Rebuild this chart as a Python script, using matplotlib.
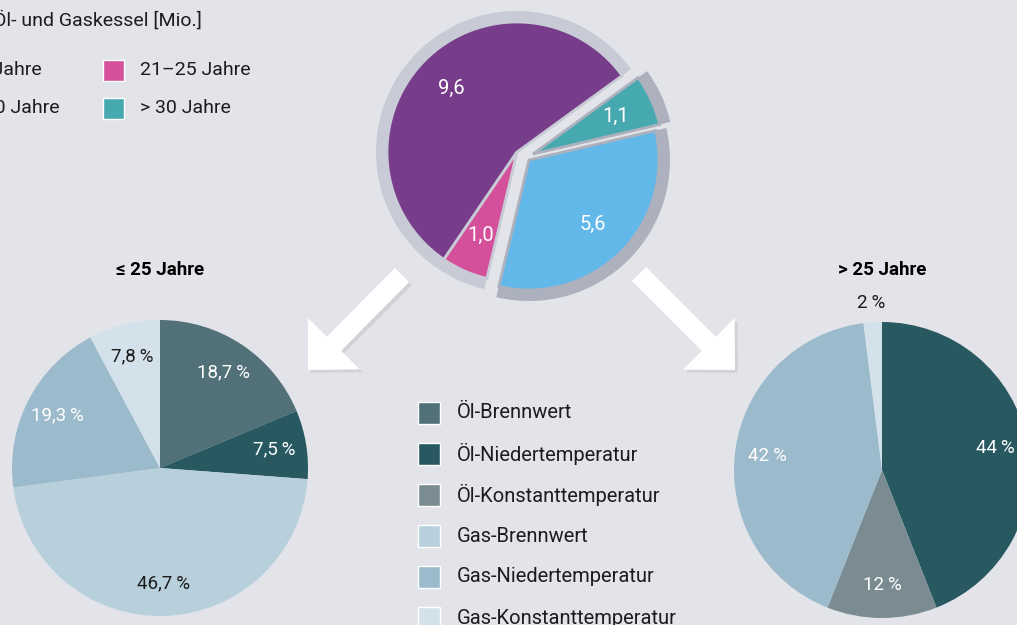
import matplotlib
matplotlib.use("Agg")
import matplotlib.pyplot as plt
import matplotlib.patheffects as pe
from matplotlib.patches import FancyArrow, Rectangle
import numpy as np

# boilers by age [Mio.]
age_groups = ['≤ 20 Jahre', '21–25 Jahre', '26–30 Jahre', '> 30 Jahre']
age_values = [9.6, 1.0, 5.6, 1.1]
age_labels = ['9,6', '1,0', '5,6', '1,1']
age_colors = ['#773c8a', '#d4509a', '#62b8e8', '#47a9b0']

# boiler types, share in percent
boiler_types = ['Öl-Brennwert', 'Öl-Niedertemperatur', 'Öl-Konstanttemperatur',
                'Gas-Brennwert', 'Gas-Niedertemperatur', 'Gas-Konstanttemperatur']
type_colors = ['#517077', '#285961', '#7a8c92', '#b8d0dc', '#9bbacb', '#d3e2ea']
type_text = ['white', 'white', 'white', '#1c1c1c', 'white', '#1c1c1c']
young_share = [18.7, 7.5, 0, 46.7, 19.3, 7.8]
young_labels = ['18,7\u2009%', '7,5\u2009%', '', '46,7\u2009%', '19,3\u2009%', '7,8\u2009%']
old_share = [0, 44, 12, 0, 42, 2]
old_labels = ['', '44\u2009%', '12\u2009%', '', '42\u2009%', '2\u2009%']

BG = '#e3e4e9'
W, H = 1017, 625

plt.rcParams['font.family'] = ['Roboto', 'DejaVu Sans']

fig = plt.figure(figsize=(W / 100, H / 100), dpi=100, facecolor=BG)
ax = fig.add_axes([0, 0, 1, 1])
ax.set_facecolor(BG)


def Y(y):
    return H - y


def pie_labels(wedges, labels, colors, center, radius, dist, outside_dist=1.13, fs=13.5):
    for w, lab, col in zip(wedges, labels, colors):
        if not lab:
            continue
        span = w.theta2 - w.theta1
        th = np.deg2rad((w.theta1 + w.theta2) / 2)
        d = dist if span > 10 else outside_dist
        c = col if span > 10 else '#1c1c1c'
        ax.text(center[0] + d * radius * np.cos(th), center[1] + d * radius * np.sin(th), lab,
                ha='center', va='center', color=c, fontsize=fs)


# top pie, split into exploded groups with a grey rim
R_in, R_out = 130, 141
groups = [([0, 1], (517, Y(152)), '#c8cad5'),
          ([2], (529, Y(160)), '#adb1bd'),
          ([3], (533, Y(154)), '#adb1bd')]
for members, c, rim in groups:
    outer, _ = ax.pie(age_values, startangle=36, center=c, radius=R_out,
                      colors=[rim] * 4, wedgeprops=dict(linewidth=0))
    inner, _ = ax.pie(age_values, startangle=36, center=c, radius=R_in,
                      colors=age_colors, wedgeprops=dict(edgecolor=rim, linewidth=2))
    for i in range(len(age_values)):
        if i not in members:
            outer[i].set_visible(False)
            inner[i].set_visible(False)
    pie_labels([inner[i] for i in members], [age_labels[i] for i in members],
               ['white'] * len(members), c, R_in, 0.7, fs=14.5)

# bottom pies
left_c, right_c = (160, Y(468)), (882, Y(470))
R_b = 148
wl, _ = ax.pie(young_share, startangle=90, counterclock=False, center=left_c, radius=R_b,
               colors=type_colors, wedgeprops=dict(linewidth=0))
pie_labels(wl, young_labels, type_text, left_c, R_b, 0.78)
wr, _ = ax.pie(old_share, startangle=90, counterclock=False, center=right_c, radius=R_b,
               colors=type_colors, wedgeprops=dict(linewidth=0))
pie_labels(wr, old_labels, type_text, right_c, R_b, 0.78)

ax.text(left_c[0], Y(270), '≤ 25 Jahre', ha='center', va='center', fontsize=13.5, fontweight='bold')
ax.text(right_c[0], Y(270), '> 25 Jahre', ha='center', va='center', fontsize=13.5, fontweight='bold')

# arrows
shadow = [pe.SimplePatchShadow(offset=(2, -2), shadow_rgbFace='#9a9da7', alpha=0.25), pe.Normal()]
for (x0, y0), (x1, y1) in [((402, 275), (308, 370)), ((639, 274), (735, 370))]:
    arr = FancyArrow(x0, Y(y0), x1 - x0, y0 - y1, width=20, head_width=73, head_length=37,
                     length_includes_head=True, color='white', linewidth=0)
    arr.set_path_effects(shadow)
    ax.add_patch(arr)

# centre legend for boiler types
for i, (name, col) in enumerate(zip(boiler_types, type_colors)):
    yc = Y(413 + i * 41)
    ax.add_patch(Rectangle((418, yc - 11), 22, 22, facecolor=col, edgecolor='white', linewidth=1))
    ax.text(457, yc, name, ha='left', va='center', fontsize=14.5, color='#1c1c1c')

# top-left legend (cut off at the figure edge, as in the original)
ax.text(202, Y(20), 'Öl- und Gaskessel [Mio.]', ha='right', va='center', fontsize=14, color='#1c1c1c')
key_pos = [(42, 70), (140, 70), (60, 108), (140, 108)]
for name, col, (tx, ty) in zip(age_groups, age_colors, key_pos):
    if tx > 100:
        ax.add_patch(Rectangle((tx - 37, Y(ty) - 10.5), 21, 21, facecolor=col, edgecolor='white', linewidth=1))
        ax.text(tx, Y(ty), name, ha='left', va='center', fontsize=14, color='#1c1c1c')
    else:
        ax.text(tx, Y(ty), name, ha='right', va='center', fontsize=14, color='#1c1c1c')

ax.set_xlim(0, W)
ax.set_ylim(0, H)
ax.set_aspect('equal')
ax.axis('off')

fig.savefig('out.png', dpi=100, facecolor=BG)
